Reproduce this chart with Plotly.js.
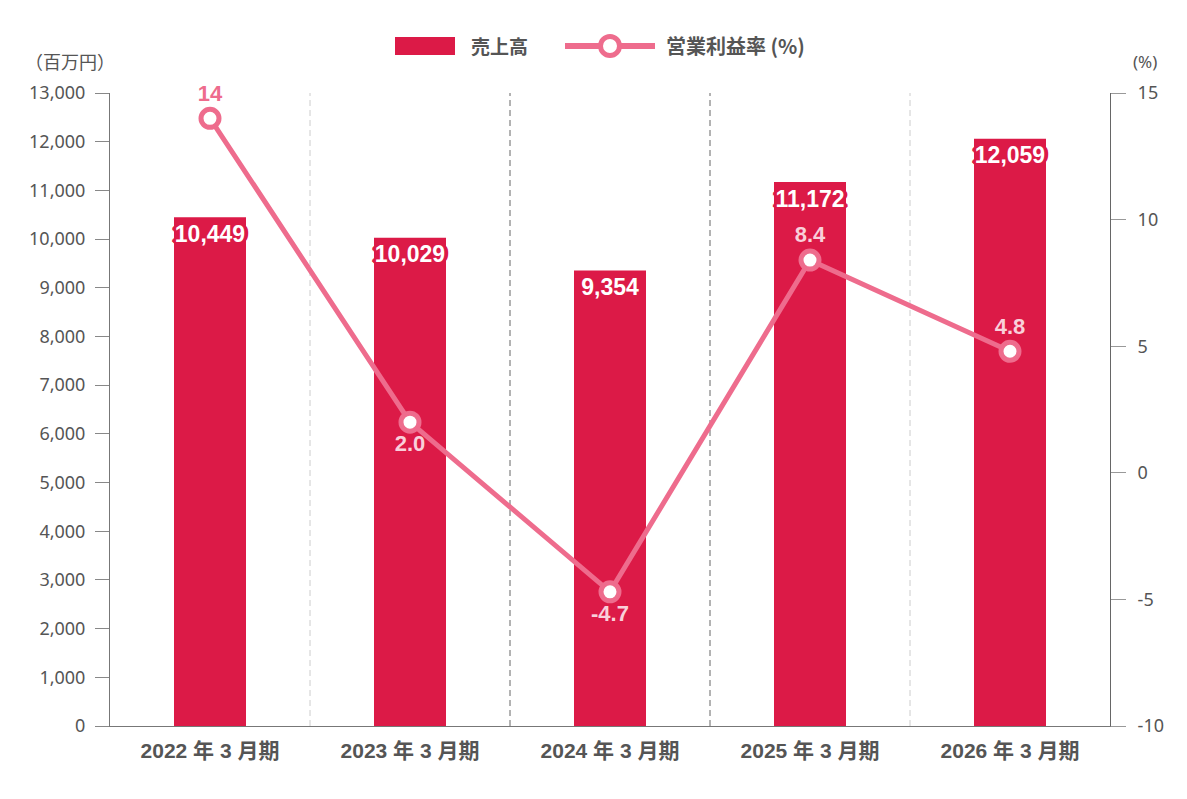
<!DOCTYPE html>
<html>
<head>
<meta charset="utf-8">
<script src="https://cdn.plot.ly/plotly-3.0.1.min.js"></script>
<style>
  html, body { margin: 0; padding: 0; background: #ffffff; }
  #chart { width: 1187px; height: 799px; }
</style>
</head>
<body>
<div id="chart"></div>
<script>
// Fiscal periods
const periods = ['2022 年 3 月期', '2023 年 3 月期', '2024 年 3 月期', '2025 年 3 月期', '2026 年 3 月期'];
// 売上高 (百万円)
const sales = [10449, 10029, 9354, 11172, 12059];
// 営業利益率 (%)
const margin = [14, 2.0, -4.7, 8.4, 4.8];
const marginLabels = ['14', '2.0', '-4.7', '8.4', '4.8'];
const marginLabelPos = ['top center', 'bottom center', 'bottom center', 'top center', 'top center'];
// Left / right axis ticks
const salesTicks = [0, 1000, 2000, 3000, 4000, 5000, 6000, 7000, 8000, 9000, 10000, 11000, 12000, 13000];
const marginTicks = [-10, -5, 0, 5, 10, 15];
const marginTickText = ['-10', '-5', '0', '5', '10', '15'];

const RED = '#dc1a47';
const PINK = '#ee6c8d';
const LIGHT_PINK = '#f9cfda';
const TEXT_GRAY = '#555555';
const LATIN_BOLD = '"Liberation Sans", Arial, "Noto Sans CJK JP", sans-serif';
const TICK_FONT = '"Noto Sans", "Open Sans", sans-serif';

// Thick red halo round the white sales figures
const haloOffsets = [[3,0],[-3,0],[0,3],[0,-3],[2,2],[-2,2],[2,-2],[-2,-2],[3,1],[3,-1],[-3,1],[-3,-1],[1,3],[-1,3],[1,-3],[-1,-3],[4,0],[-4,0]];
const outline = haloOffsets.map(o => o[0] + 'px ' + o[1] + 'px 0 ' + RED).join(', ');

const barTrace = {
  type: 'bar',
  x: periods,
  y: sales,
  yaxis: 'y',
  marker: { color: RED, line: { width: 0 } },
  width: 0.36,
  hoverinfo: 'skip',
  showlegend: false,
  name: '売上高'
};

const barLabels = {
  type: 'scatter',
  mode: 'markers+text',
  x: periods,
  y: sales,
  yaxis: 'y',
  marker: { size: 10, opacity: 0 },
  text: sales.map(v => v.toLocaleString('en-US')),
  textposition: 'bottom center',
  textfont: { family: LATIN_BOLD, size: 23, color: '#ffffff', weight: 700, shadow: outline },
  cliponaxis: false,
  hoverinfo: 'skip',
  showlegend: false
};

const lineTrace = {
  type: 'scatter',
  mode: 'lines+markers+text',
  x: periods,
  y: margin,
  yaxis: 'y2',
  line: { color: PINK, width: 5 },
  marker: { size: 18, color: '#ffffff', line: { color: PINK, width: 5 } },
  text: marginLabels,
  textposition: marginLabelPos,
  textfont: {
    family: LATIN_BOLD, size: 22, weight: 700,
    color: margin.map((v, i) => (i === 0 ? PINK : LIGHT_PINK))
  },
  cliponaxis: false,
  hoverinfo: 'skip',
  showlegend: false,
  name: '営業利益率 (%)'
};

// Dashed separators between fiscal periods
const sepColors = ['#cccccc', '#666666', '#666666', '#cccccc'];
const shapes = sepColors.map((c, i) => ({
  type: 'line', xref: 'x', yref: 'paper',
  x0: i + 0.5, x1: i + 0.5, y0: 0, y1: 1,
  line: { color: c, width: 1, dash: '6px,4px' },
  layer: 'below'
}));

// Legend drawn at the top centre
shapes.push(
  { type: 'rect', xref: 'paper', yref: 'paper', x0: 0.285, x1: 0.345, y0: 1.0 + 38 / 633, y1: 1.0 + 56 / 633,
    fillcolor: RED, line: { width: 0 } },
  { type: 'line', xref: 'paper', yref: 'paper', x0: 0.455, x1: 0.545, y0: 1.0 + 47 / 633, y1: 1.0 + 47 / 633,
    line: { color: PINK, width: 6 } },
  { type: 'circle', xref: 'paper', yref: 'paper', x0: 0.5 - 9.5 / 1000, x1: 0.5 + 9.5 / 1000,
    y0: 1.0 + 37.5 / 633, y1: 1.0 + 56.5 / 633,
    fillcolor: '#ffffff', line: { color: PINK, width: 5 } }
);

const annotations = [
  { text: '売上高', xref: 'paper', yref: 'paper', x: 0.359, y: 1.0 + 47 / 633, xanchor: 'left', yanchor: 'middle',
    showarrow: false, font: { family: '"Noto Sans CJK JP", sans-serif', size: 19, color: TEXT_GRAY, weight: 700 } },
  { text: '営業利益率 (%)', xref: 'paper', yref: 'paper', x: 0.554, y: 1.0 + 47 / 633, xanchor: 'left', yanchor: 'middle',
    showarrow: false, font: { family: '"Noto Sans CJK JP", sans-serif', size: 20, color: TEXT_GRAY, weight: 700 } },
  { text: '（百万円）', xref: 'paper', yref: 'paper', x: -0.04, y: 1.0 + 32 / 633, xanchor: 'center', yanchor: 'middle',
    showarrow: false, font: { family: '"Noto Sans CJK JP", sans-serif', size: 18, color: TEXT_GRAY } },
  { text: '(%)', xref: 'paper', yref: 'paper', x: 1.035, y: 1.0 + 31 / 633, xanchor: 'center', yanchor: 'middle',
    showarrow: false, font: { family: TICK_FONT, size: 17, color: TEXT_GRAY } }
];

const layout = {
  width: 1187,
  height: 799,
  margin: { l: 110, r: 77, t: 93, b: 73, pad: 0 },
  paper_bgcolor: '#ffffff',
  plot_bgcolor: '#ffffff',
  showlegend: false,
  xaxis: {
    type: 'category',
    range: [-0.5, 4.5],
    showgrid: false,
    zeroline: false,
    showline: true,
    linecolor: '#777777',
    linewidth: 1,
    ticks: '',
    tickfont: { family: LATIN_BOLD, size: 21, color: TEXT_GRAY, weight: 700 },
    ticklabelstandoff: 6,
    fixedrange: true
  },
  yaxis: {
    range: [0, 13000],
    tickvals: salesTicks,
    tickformat: ',d',
    showgrid: false,
    zeroline: false,
    showline: true,
    linecolor: '#777777',
    linewidth: 1,
    ticks: 'outside',
    ticklen: 14,
    tickcolor: '#888888',
    tickwidth: 1,
    ticklabelstandoff: 6,
    tickfont: { family: TICK_FONT, size: 18, color: TEXT_GRAY },
    fixedrange: true
  },
  yaxis2: {
    overlaying: 'y',
    side: 'right',
    anchor: 'x',
    range: [-10, 15],
    tickvals: marginTicks,
    ticktext: marginTickText,
    showgrid: false,
    zeroline: false,
    showline: true,
    linecolor: '#666666',
    linewidth: 1,
    ticks: 'outside',
    ticklen: 15,
    tickcolor: '#999999',
    tickwidth: 1,
    ticklabelstandoff: 8,
    tickfont: { family: TICK_FONT, size: 18, color: TEXT_GRAY },
    fixedrange: true
  },
  shapes: shapes,
  annotations: annotations
};

Plotly.newPlot('chart', [barTrace, barLabels, lineTrace], layout, { displayModeBar: false, staticPlot: true });
</script>
</body>
</html>
